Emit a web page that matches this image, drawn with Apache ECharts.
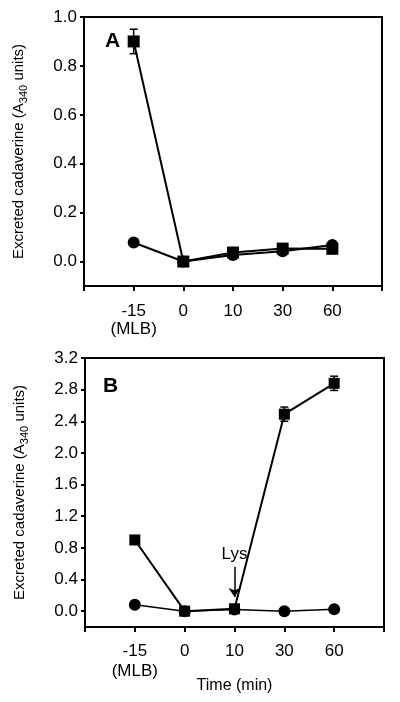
<!DOCTYPE html>
<html><head><meta charset="utf-8">
<script src="https://cdn.jsdelivr.net/npm/echarts@6/dist/echarts.min.js"></script>
<style>html,body{margin:0;padding:0;background:#fff}#c{width:400px;height:702px}</style>
</head><body><div id="c"></div>
<script>
// Categories (time, min) shown at positions 1..5 on the x axis
const timeLabels = ['-15\n(MLB)', '0', '10', '30', '60'];
// Panel A
const aSquares = [0.90, 0.00, 0.037, 0.053, 0.052];
const aSquaresErr = [0.05, 0, 0, 0, 0];
const aCircles = [0.078, 0.00, 0.027, 0.042, 0.068];
// Panel B
const bSquares = [0.90, 0.00, 0.03, 2.49, 2.88];
const bSquaresErr = [0, 0, 0, 0.09, 0.09];
const bCircles = [0.08, 0.00, 0.02, 0.00, 0.025];
// Tick labels
const aTicks = [0.0, 0.2, 0.4, 0.6, 0.8, 1.0];
const bTicks = [0.0, 0.4, 0.8, 1.2, 1.6, 2.0, 2.4, 2.8, 3.2];

const FONT = 'Liberation Sans';
const pts = arr => arr.map((v, i) => [i + 1, v]);
const errPts = (vals, errs) => vals.map((v, i) => [i + 1, v, errs[i]]).filter(d => d[2] > 0);

function xAxisCfg(gi, name, lh, margin) {
  return {
    gridIndex: gi, type: 'value', min: 0, max: 6, interval: 1,
    axisLine: {show: true, onZero: false, lineStyle: {color: '#000', width: 2}},
    axisTick: {show: true, length: 5, lineStyle: {color: '#000', width: 2}},
    splitLine: {show: false},
    axisLabel: {
      color: '#000', fontFamily: FONT, fontSize: 17, lineHeight: lh, margin: margin,
      formatter: v => (v >= 1 && v <= 5) ? timeLabels[v - 1] : ''
    },
    name: name || '', nameLocation: 'middle', nameGap: 51, nameMoveOverlap: false,
    nameTextStyle: {color: '#000', fontFamily: FONT, fontSize: 16}
  };
}
const yName = '{n|Excreted cadaverine (A}{s|340}{n| units)}';
const yRich = {
  n: {fontFamily: FONT, fontSize: 15, color: '#000', lineHeight: 15, verticalAlign: 'middle'},
  s: {fontFamily: FONT, fontSize: 11, color: '#000', lineHeight: 21, verticalAlign: 'bottom'}
};
function yAxisCfg(gi, min, max, ticks) {
  return {
    gridIndex: gi, type: 'value', min: min, max: max,
    axisLine: {show: true, onZero: false, lineStyle: {color: '#000', width: 2}},
    axisTick: {show: true, length: 4, lineStyle: {color: '#000', width: 2}, customValues: ticks},
    splitLine: {show: false},
    axisLabel: {color: '#000', fontFamily: FONT, fontSize: 17, margin: 7,
      customValues: ticks, formatter: v => v.toFixed(1)},
    name: yName, nameLocation: 'middle', nameGap: 55, nameMoveOverlap: false,
    nameTextStyle: {rich: yRich}
  };
}
function errSeries(xi, data) {
  return {
    type: 'custom', xAxisIndex: xi, yAxisIndex: xi, data: data, z: 1, silent: true,
    renderItem: (params, api) => {
      const x = api.value(0), y = api.value(1), e = api.value(2);
      const top = api.coord([x, y + e]), bot = api.coord([x, y - e]);
      const w = 4;
      const st = {stroke: '#000', lineWidth: 1.5};
      return {type: 'group', children: [
        {type: 'line', shape: {x1: top[0], y1: top[1], x2: bot[0], y2: bot[1]}, style: st},
        {type: 'line', shape: {x1: top[0] - w, y1: top[1], x2: top[0] + w, y2: top[1]}, style: st},
        {type: 'line', shape: {x1: bot[0] - w, y1: bot[1], x2: bot[0] + w, y2: bot[1]}, style: st}
      ]};
    }
  };
}
function lineSeries(xi, data, sym, size, lw, extra) {
  return Object.assign({
    type: 'line', xAxisIndex: xi, yAxisIndex: xi, data: data, z: 3,
    symbol: sym, symbolSize: size, showSymbol: true,
    itemStyle: {color: '#000'}, lineStyle: {color: '#000', width: lw},
    animation: false
  }, extra || {});
}

const chart = echarts.init(document.getElementById('c'), null, {renderer: 'canvas'});
chart.setOption({
  backgroundColor: '#fff',
  animation: false,
  title: [
    {text: 'A', left: 105, top: 31, padding: 0, textStyle: {fontFamily: FONT, fontSize: 21, fontWeight: 'bold', color: '#000'}},
    {text: 'B', left: 103, top: 376, padding: 0, textStyle: {fontFamily: FONT, fontSize: 21, fontWeight: 'bold', color: '#000'}}
  ],
  grid: [
    {left: 84, top: 17, width: 298, height: 269, show: true, borderColor: '#000', borderWidth: 2, backgroundColor: 'transparent'},
    {left: 85, top: 358, width: 299, height: 269, show: true, borderColor: '#000', borderWidth: 2, backgroundColor: 'transparent'}
  ],
  xAxis: [xAxisCfg(0, '', 18, 16), xAxisCfg(1, 'Time (min)', 20, 14)],
  yAxis: [yAxisCfg(0, -0.1, 1.0, aTicks), yAxisCfg(1, -0.2, 3.2, bTicks)],
  series: [
    errSeries(0, errPts(aSquares, aSquaresErr)),
    lineSeries(0, pts(aCircles), 'circle', 12, 2),
    lineSeries(0, pts(aSquares), 'rect', 12, 2),
    errSeries(1, errPts(bSquares, bSquaresErr)),
    lineSeries(1, pts(bCircles), 'circle', 12, 1.5),
    lineSeries(1, pts(bSquares), 'rect', 11, 2, {
      markLine: {
        silent: true, animation: false,
        symbol: ['none', 'arrow'], symbolSize: 9,
        lineStyle: {color: '#000', width: 1.5, type: 'solid'},
        label: {show: true, position: 'start', formatter: 'Lys', color: '#000', fontFamily: FONT, fontSize: 17, distance: 4},
        data: [[{coord: [3, 0.56]}, {coord: [3, 0.18]}]]
      }
    })
  ]
});
</script></body></html>
